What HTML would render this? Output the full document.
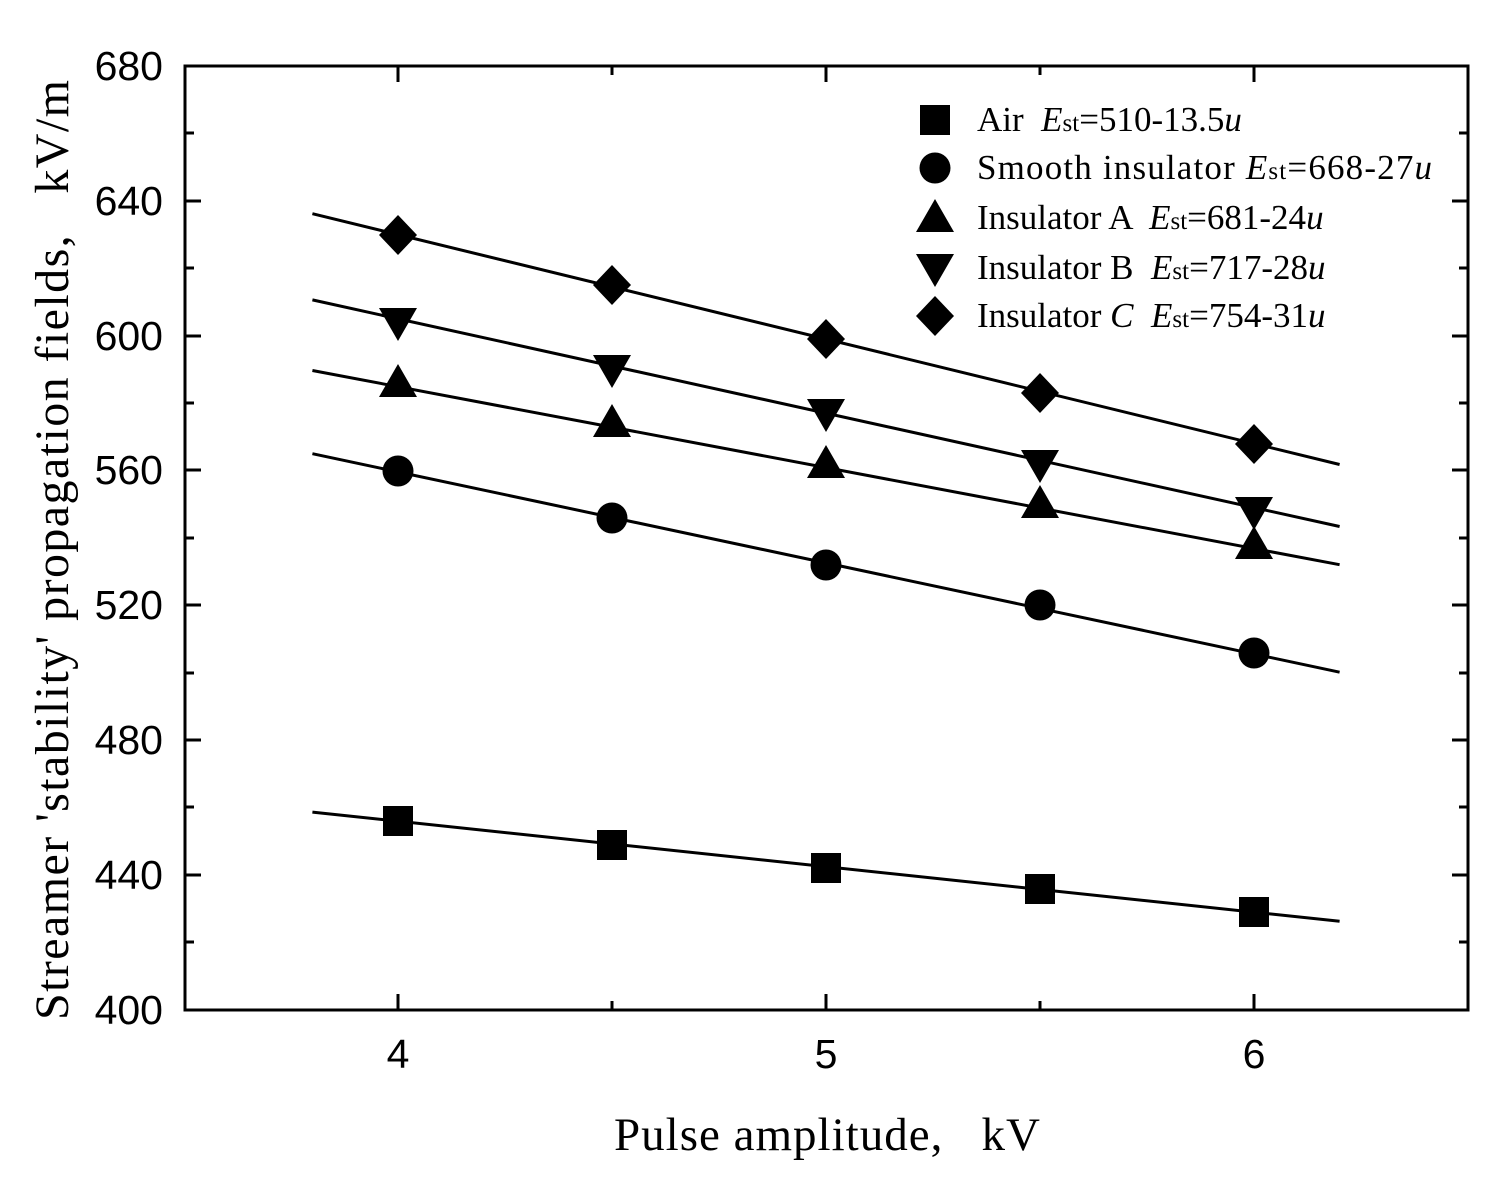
<!DOCTYPE html>
<html><head><meta charset="utf-8"><style>body{margin:0;background:#fff}text{white-space:pre}</style></head><body>
<svg width="1507" height="1192" xmlns="http://www.w3.org/2000/svg">
<defs>
<g id="sq"><rect x="-15" y="-15" width="30" height="30" fill="#000"/></g>
<g id="ci"><circle r="15.5" fill="#000"/></g>
<g id="tu"><polygon points="0,-19 19,14 -19,14" fill="#000"/></g>
<g id="td"><polygon points="0,19 19,-14 -19,-14" fill="#000"/></g>
<g id="di"><polygon points="0,-20 19,0 0,20 -19,0" fill="#000"/></g>
</defs>
<rect x="185" y="66" width="1283" height="944" fill="none" stroke="#000" stroke-width="3"/>
<g stroke="#000" stroke-width="3">
<path d="M185 66h16M185 201h16M185 336h16M185 470h16M185 605h16M185 740h16M185 875h16M185 1010h16
M1468 66h-16M1468 201h-16M1468 336h-16M1468 470h-16M1468 605h-16M1468 740h-16M1468 875h-16
M185 133h9M185 268h9M185 403h9M185 538h9M185 673h9M185 807h9M185 942h9
M1468 133h-9M1468 268h-9M1468 403h-9M1468 538h-9M1468 673h-9M1468 807h-9M1468 942h-9
M398 1010v-16M826 1010v-16M1254 1010v-16M398 66v16M826 66v16M1254 66v16
M612 1010v-9M1040 1010v-9M612 66v9M1040 66v9"/>
</g>
<g font-family="Liberation Sans, sans-serif" font-size="41" text-anchor="end">
<text x="163" y="80">680</text><text x="163" y="215">640</text><text x="163" y="350">600</text><text x="163" y="484">560</text><text x="163" y="619">520</text><text x="163" y="754">480</text><text x="163" y="889">440</text><text x="163" y="1024">400</text>
</g>
<g font-family="Liberation Sans, sans-serif" font-size="41" text-anchor="middle">
<text x="398" y="1068">4</text><text x="826" y="1068">5</text><text x="1254" y="1068">6</text>
</g>
<text x="614" y="1150" font-family="Liberation Serif, serif" font-size="47" textLength="426" lengthAdjust="spacing">Pulse amplitude,   kV</text>
<text transform="translate(68,1020) rotate(-90)" font-family="Liberation Serif, serif" font-size="48" textLength="940" lengthAdjust="spacing">Streamer 'stability' propagation fields,   kV/m</text>
<g stroke="#000" stroke-width="3">
<line x1="312.4" y1="812.1" x2="1339.6" y2="921.3"/>
<line x1="312.4" y1="453.7" x2="1339.6" y2="672.2"/>
<line x1="312.4" y1="370.5" x2="1339.6" y2="564.7"/>
<line x1="312.4" y1="299.9" x2="1339.6" y2="526.5"/>
<line x1="312.4" y1="213.7" x2="1339.6" y2="464.5"/>
</g>
<use href="#sq" x="398" y="821"/><use href="#sq" x="612" y="845"/><use href="#sq" x="826" y="868"/><use href="#sq" x="1040" y="889"/><use href="#sq" x="1254" y="912"/>
<use href="#ci" x="398" y="471"/><use href="#ci" x="612" y="518"/><use href="#ci" x="826" y="565"/><use href="#ci" x="1040" y="605"/><use href="#ci" x="1254" y="653"/>
<use href="#tu" x="398" y="383"/><use href="#tu" x="612" y="423"/><use href="#tu" x="826" y="464"/><use href="#tu" x="1040" y="504"/><use href="#tu" x="1254" y="545"/>
<use href="#td" x="398" y="322"/><use href="#td" x="612" y="369"/><use href="#td" x="826" y="413"/><use href="#td" x="1040" y="464"/><use href="#td" x="1254" y="511"/>
<use href="#di" x="398" y="235"/><use href="#di" x="612" y="285"/><use href="#di" x="826" y="339"/><use href="#di" x="1040" y="393"/><use href="#di" x="1254" y="444"/>
<use href="#sq" x="935" y="120"/><use href="#ci" x="935" y="168"/><use href="#tu" x="935" y="218"/><use href="#td" x="935" y="268"/><use href="#di" x="935" y="316"/>
<g font-family="Liberation Serif, serif" font-size="35">
<text x="977" y="131">Air  <tspan font-style="italic">E</tspan><tspan font-size="25">st</tspan>=510-13.5<tspan font-style="italic">u</tspan></text>
<text x="977" y="179" textLength="455" lengthAdjust="spacing">Smooth insulator <tspan font-style="italic">E</tspan><tspan font-size="25">st</tspan>=668-27<tspan font-style="italic">u</tspan></text>
<text x="977" y="229">Insulator A  <tspan font-style="italic">E</tspan><tspan font-size="25">st</tspan>=681-24<tspan font-style="italic">u</tspan></text>
<text x="977" y="279">Insulator B  <tspan font-style="italic">E</tspan><tspan font-size="25">st</tspan>=717-28<tspan font-style="italic">u</tspan></text>
<text x="977" y="327">Insulator <tspan font-style="italic">C</tspan>  <tspan font-style="italic">E</tspan><tspan font-size="25">st</tspan>=754-31<tspan font-style="italic">u</tspan></text>
</g>
</svg>
</body></html>
